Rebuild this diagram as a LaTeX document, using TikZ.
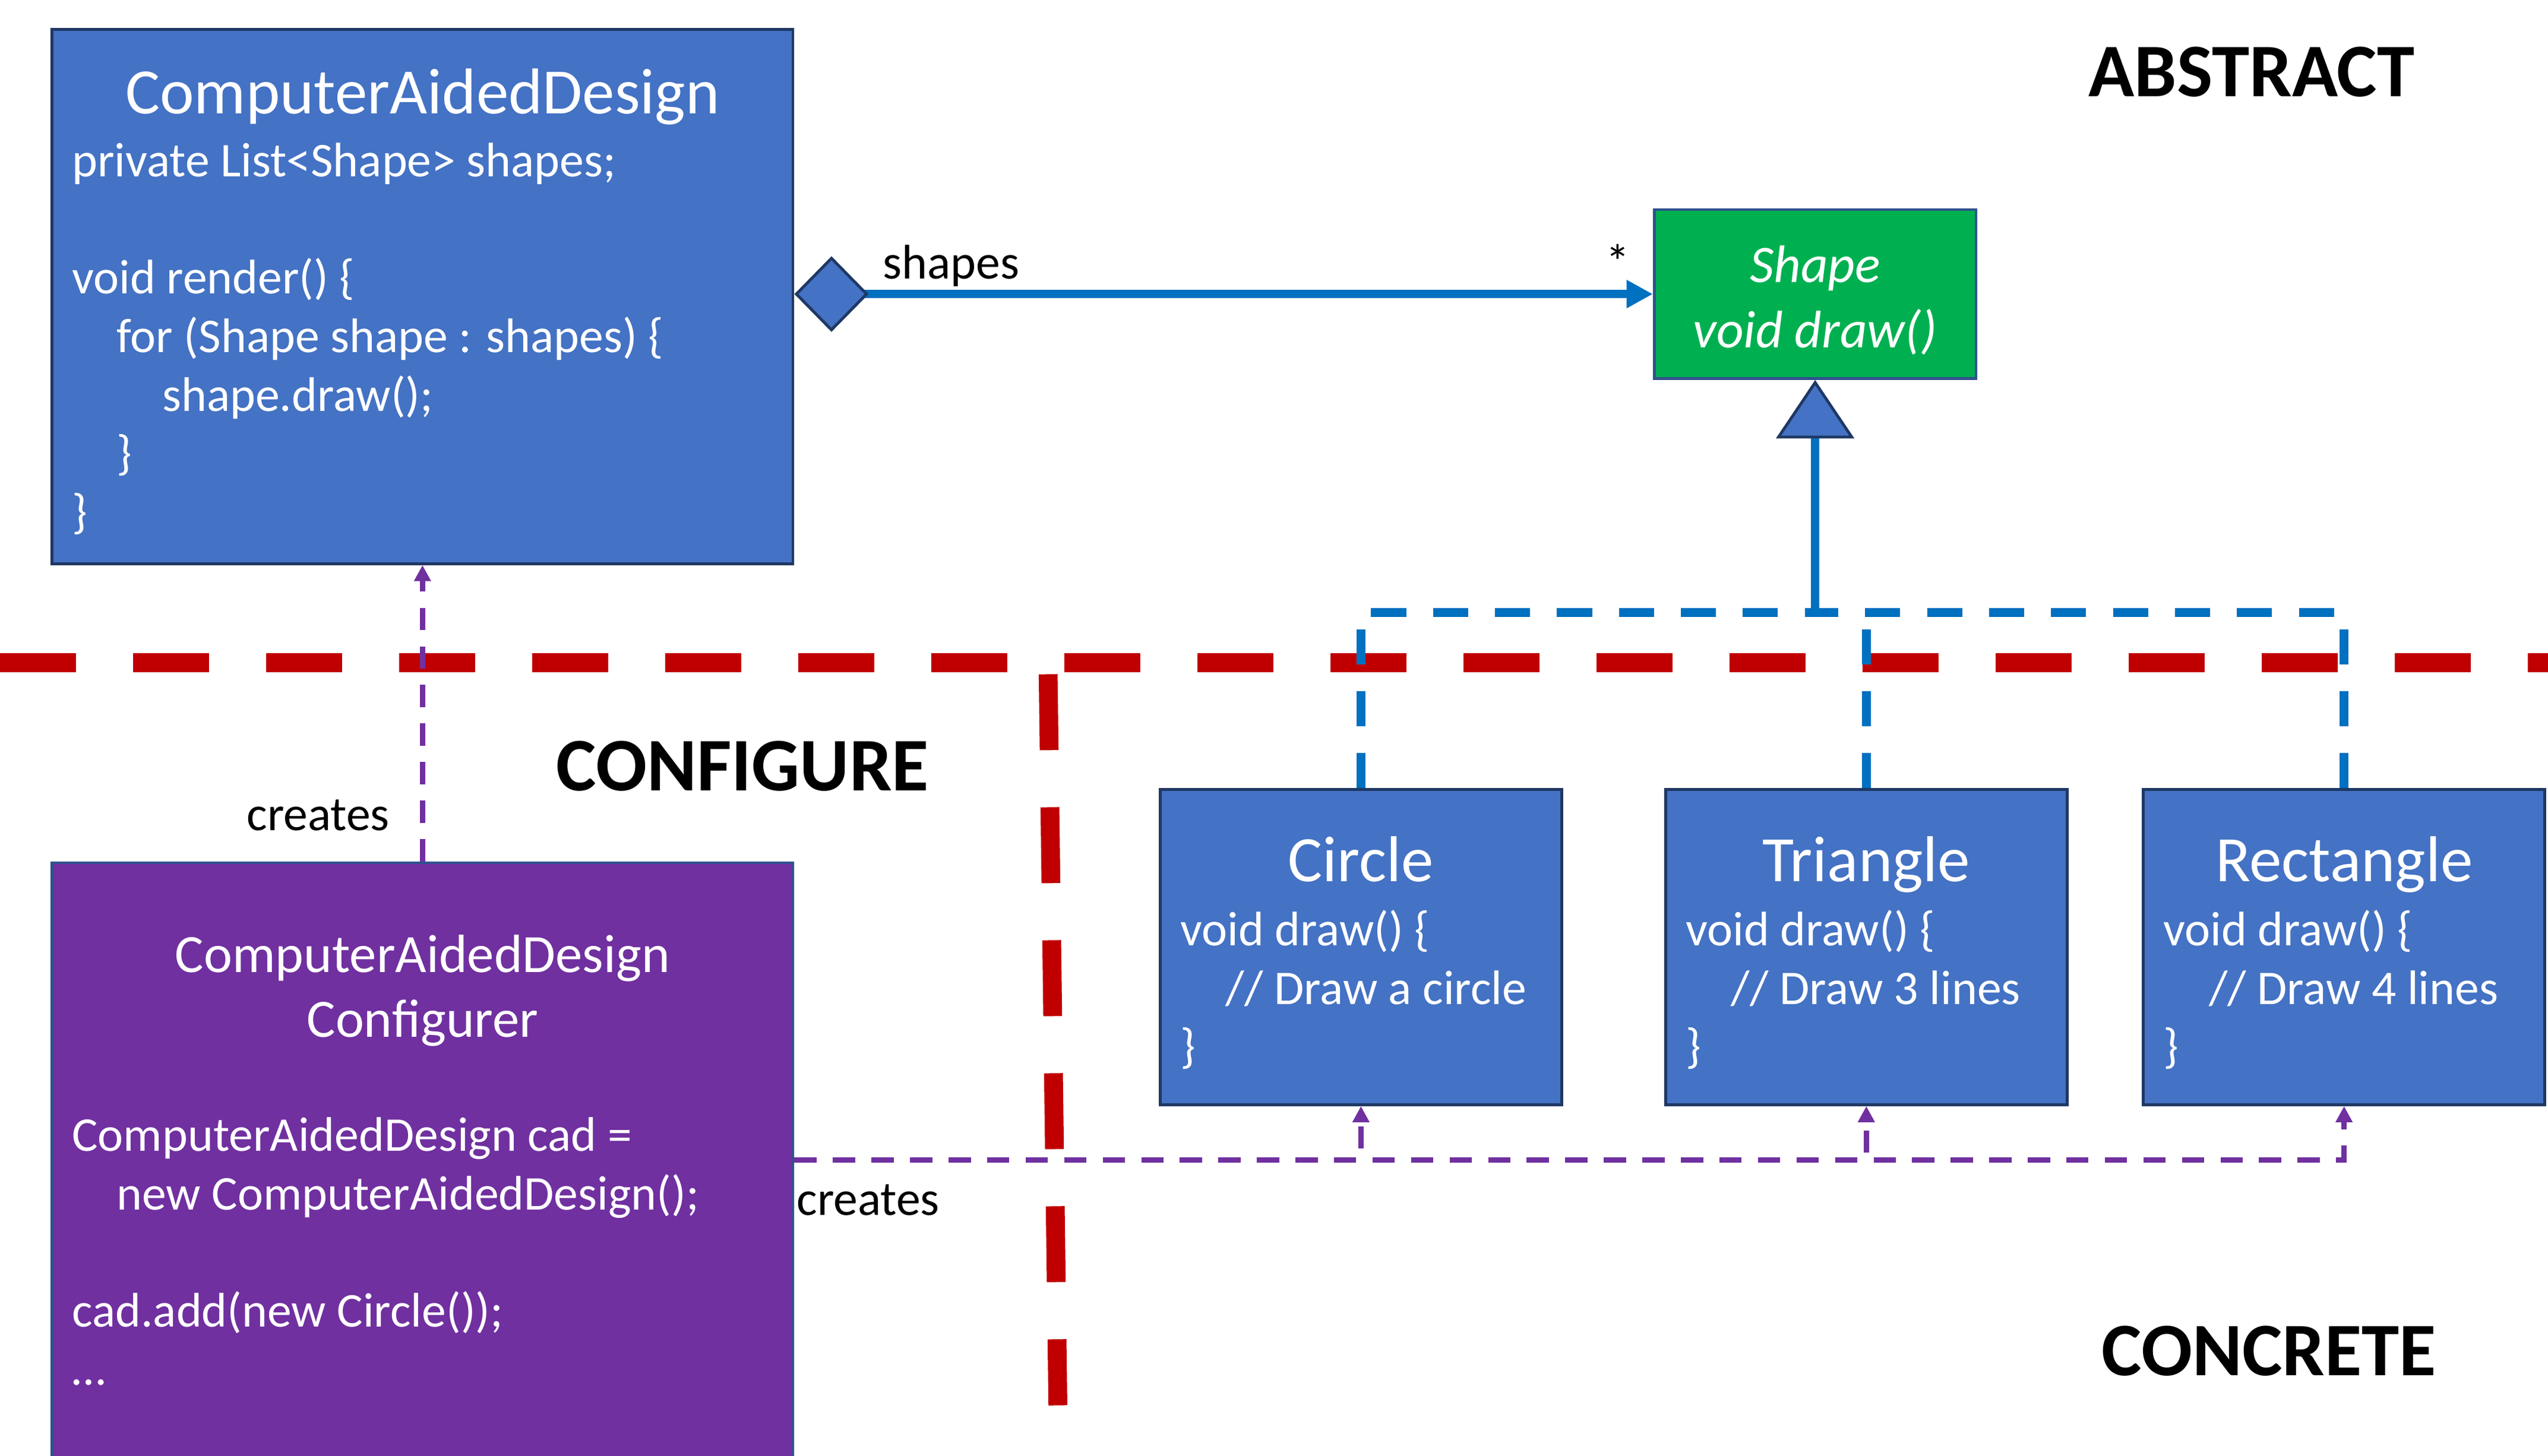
\documentclass[tikz,border=0pt]{standalone}
\usepackage{fontspec}
\setmainfont{Carlito}
\usetikzlibrary{arrows.meta,positioning,calc}
\definecolor{cadblue}{HTML}{4472C4}
\definecolor{navy}{HTML}{1F3864}
\definecolor{edgeblue}{HTML}{2F528F}
\definecolor{shapegreen}{HTML}{00B050}
\definecolor{lineblue}{HTML}{0070C0}
\definecolor{cfgpurple}{HTML}{7030A0}
\definecolor{bndred}{HTML}{C00000}

\begin{document}
\begin{tikzpicture}[x=0.02cm,y=-0.02cm]

\tikzset{bluebox/.style={draw=navy,line width=1pt,fill=cadblue,inner sep=0pt,shape=rectangle},
greenbox/.style={draw=edgeblue,line width=1pt,fill=shapegreen,inner sep=0pt,shape=rectangle},
purplebox/.style={draw=edgeblue,line width=1pt,fill=cfgpurple,inner sep=0pt,shape=rectangle},
smallbox/.style={bluebox,minimum width=4.94cm,minimum height=3.88cm},
title/.style={text=white,inner sep=0pt,anchor=base,font=\fontsize{22.7}{27}\selectfont},
code/.style={text=white,inner sep=0pt,anchor=north west,align=left,font=\fontsize{17}{20.5}\selectfont},
heading/.style={inner sep=0pt,anchor=base west,font=\fontsize{26.5}{30}\selectfont\bfseries},
lbl/.style={inner sep=0pt,font=\fontsize{17}{20.5}\selectfont},
assoc/.style={draw=lineblue,line width=3pt,arrows={Diamond[length=26pt,width=26.5pt,fill=cadblue,color=navy,line width=1pt]-Triangle[length=9.2pt,width=9.3pt]}},
inherit/.style={draw=lineblue,line width=3pt,-{Triangle[length=20.5pt,width=27.3pt,fill=cadblue,color=navy,line width=1pt]}},
realize/.style={draw=lineblue,line width=3pt,dash pattern=on 12.3pt off 9.4pt},
creates/.style={draw=cfgpurple,line width=1.9pt,dash pattern=on 7.8pt off 5.7pt,-{Triangle[length=5.6pt,width=5.6pt]}},
boundary/.style={draw=bndred,line width=6.6pt,dash pattern=on 26.6pt off 20pt}}

\useasboundingbox (0,0) rectangle (1568,896);

% Class boxes
\node[bluebox,minimum width=9.12cm,minimum height=6.58cm] (cad) at (260,182.5) {};
\node[greenbox,minimum width=3.96cm,minimum height=2.08cm] (shape) at (1117,181) {};
\node[purplebox,minimum width=9.12cm,minimum height=7.32cm] (cfg) at (260,714) {};
\node[smallbox] (circ) at (837.5,583) {};
\node[smallbox] (tri) at (1148.5,583) {};
\node[smallbox] (rect) at (1442.5,583) {};

% Box texts
\node[title] (cadtitle) at (260,70) {ComputerAidedDesign};
\node[code] (cadcode) at (44,83.3) {\strut private List<Shape> shapes;\\[20.5pt]
void render() \{\\
\hspace*{0.55cm}for (Shape shape : shapes) \{\\
\hspace*{1.11cm}shape.draw();\\
\hspace*{0.55cm}\}\\
\}};
\node[text=white,inner sep=0pt,anchor=north,align=center,font=\fontsize{18.5}{22.8}\selectfont\itshape] (shapetext) at (1117,145.4) {\strut Shape\\void draw()};
\node[title,anchor=north,align=center,font=\fontsize{18.9}{22.8}\selectfont] (cfgtitle) at (260,570) {\strut ComputerAidedDesign\\Configurer};
\node[code] (cfgcode) at (44,683) {\strut ComputerAidedDesign cad =\\
\hspace*{0.55cm}new ComputerAidedDesign();\\[20.5pt]
cad.add(new Circle());\\
…};
\node[title] (circtitle) at (837.5,542.7) {Circle};
\node[code] (circcode) at (726,556.5) {\strut void draw() \{\\\hspace*{0.56cm}// Draw a circle\\\}};
\node[title] (trititle) at (1148.5,542.7) {Triangle};
\node[code] (tricode) at (1037,556.5) {\strut void draw() \{\\\hspace*{0.56cm}// Draw 3 lines\\\}};
\node[title] (recttitle) at (1442.5,542.7) {Rectangle};
\node[code] (rectcode) at (1331,556.5) {\strut void draw() \{\\\hspace*{0.56cm}// Draw 4 lines\\\}};

% Region labels
\node[heading] (abstract) at (1285,59.5) {ABSTRACT};
\node[heading] (configure) at (342,486.5) {CONFIGURE};
\node[heading] (concrete) at (1293,846.5) {CONCRETE};

% Region borders
\draw[boundary] (0,408) -- (1568,408);
\draw[boundary] (645,415) -- (651,865);

% Edges
\coordinate (junction) at (shape.south |- 0,377);
\draw[assoc] (cad.east |- shape.west) -- (shape.west);
\node[lbl,anchor=base west] (shapeslbl) at (543,171.5) {shapes};
\node[lbl,anchor=base] (multlbl) at (995.7,171.5) {*};
\draw[inherit] (junction) -- (shape.south);
\draw[realize] (circ.north) |- (junction); \draw[realize] (rect.north) |- (junction); \draw[realize] (tri.north) -- (tri.north |- junction);
\draw[creates] (cfg.north) -- (cad.south);
\node[lbl,anchor=base east] (createsup) at (240,511) {creates};
\draw[creates] (cfg.east) -| (circ.south); \draw[creates] (cfg.east) -| (tri.south); \draw[creates] (cfg.east) -| (rect.south);
\node[lbl,anchor=base west] (createsright) at (490,748) {creates};

\end{tikzpicture}
\end{document}
